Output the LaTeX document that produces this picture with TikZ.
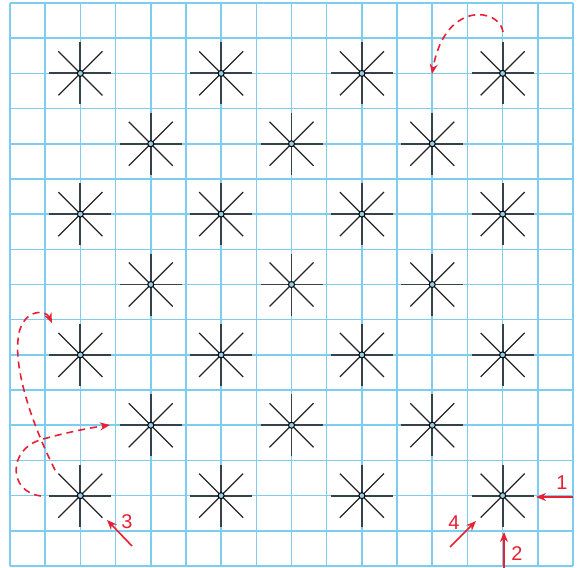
\documentclass[tikz,border=0pt]{standalone}
\usepackage{fontspec}
\setmainfont{Liberation Sans}
\usetikzlibrary{arrows.meta}
\definecolor{gridc}{RGB}{125,206,238}
\definecolor{armc}{RGB}{55,66,72}
\definecolor{redc}{RGB}{232,32,52}
\definecolor{hubc}{RGB}{140,210,240}
\tikzset{
  gridline/.style={draw=gridc, line width=1.6bp},
  armline/.style={draw=armc, line width=1.8bp},
  diagline/.style={draw=black!85, line width=1.1bp},
  hub/.style={draw=black, fill=hubc, line width=1bp},
  redarrow/.style={draw=redc, line width=1.6bp, -{Stealth[length=10bp,width=8bp]}},
  reddash/.style={redarrow, dash pattern=on 7bp off 5bp},
  lbl/.style={text=redc, font=\fontsize{20}{20}\selectfont, inner sep=0pt},
  star/.pic={
    \draw[armline] (-31,0) -- (31,0) (0,-31) -- (0,31);
    \draw[diagline] (-22,-22) -- (22,22) (-22,22) -- (22,-22);
    \draw[hub] (0,0) circle (3);
    \coordinate (-c) at (0,0);
  }
}
\begin{document}
\begin{tikzpicture}[x=1bp,y=-1bp]
\useasboundingbox (0,0) rectangle (578,568);
\fill[white] (0,0) rectangle (578,568);
% grid
\foreach \i in {0,...,16}{
  \draw[gridline] ({10+\i*35.1875},3) -- ({10+\i*35.1875},566);
  \draw[gridline] (10,{3+\i*35.1875}) -- (573,{3+\i*35.1875});
}
% stars
\foreach \r in {2,6,10,14}{
  \foreach \c in {2,6,10,14}{
    \pic (sa\r\c) at ({10+\c*35.1875},{3+\r*35.1875}) {star};
  }
}
\foreach \r in {4,8,12}{
  \foreach \c in {4,8,12}{
    \pic (sb\r\c) at ({10+\c*35.1875},{3+\r*35.1875}) {star};
  }
}
% straight arrows
\coordinate (a1s) at (573,497); \coordinate (a1e) at (536,497);
\draw[redarrow] (a1s) -- (a1e);
\node[lbl] (l1) at (562,483) {1};
\coordinate (a2s) at (504,568); \coordinate (a2e) at (504,532);
\draw[redarrow] (a2s) -- (a2e);
\node[lbl] (l2) at (517,554) {2};
\coordinate (a3s) at (132,546); \coordinate (a3e) at (107,520);
\draw[redarrow] (a3s) -- (a3e);
\node[lbl] (l3) at (127,522) {3};
\coordinate (a4s) at (450,547); \coordinate (a4e) at (476,521);
\draw[redarrow] (a4s) -- (a4e);
\node[lbl] (l4) at (454,523) {4};
% dashed curves
\coordinate (d1s) at (503,32); \coordinate (d1e) at (432,74);
\draw[reddash] (d1s) .. controls (500,8) and (445,0) .. (d1e);
\coordinate (d2s) at (41,496); \coordinate (d2m) at (40,440); \coordinate (d2e) at (110,425);
\draw[reddash] (d2s) .. controls (8,492) and (8,450) .. (d2m) .. controls (60,434) and (88,428) .. (d2e);
\coordinate (d3s) at (55,470); \coordinate (d3m) at (18,340); \coordinate (d3e) at (52,323);
\draw[reddash] (d3s) .. controls (30,420) and (15,370) .. (d3m) .. controls (20,310) and (45,308) .. (d3e);
\end{tikzpicture}
\end{document}
